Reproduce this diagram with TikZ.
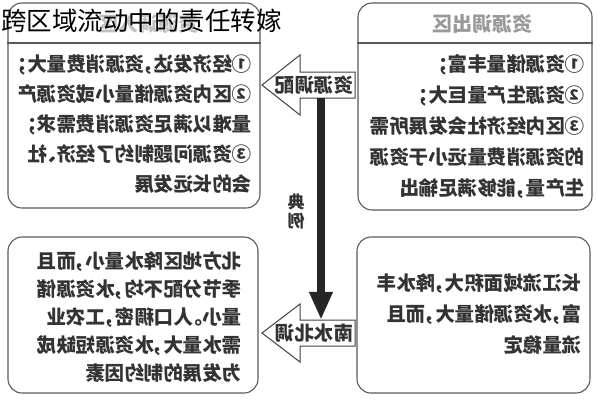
\documentclass[tikz,border=0pt]{standalone}
\usepackage{fontspec}
\setmainfont{Noto Sans CJK SC}[RawFeature={+halt}]
\newfontfamily\fullfont{Noto Sans CJK SC}
\newcommand{\circnum}[1]{{\fullfont #1}}
\usepackage{tikz}
\usetikzlibrary{
	positioning,   %定位
	arrows.meta,   %提供各种箭头
	calc           %计算
}
\tikzset{
	every picture/.style={
		>=latex,
		node distance=5mm and 5mm
}}
\tikzset{
	box/.style={draw=black!65, line width=1.1pt, rounded corners=14pt, inner sep=0pt},
	mirror/.style={xscale=-1},   %原图为镜像
	bodytext/.style={mirror, anchor=north west, inner sep=0pt, align=left, text=black!80,
		font=\fontsize{19.5}{#1}\selectfont\bfseries},
	headtext/.style={mirror, inner sep=0pt, font=\fontsize{20}{20}\selectfont\bfseries},
	flow/.style={draw=black!75, line width=1pt, fill=white},
	flowtext/.style={mirror, inner sep=0pt, minimum width=82pt, minimum height=26pt,
		text=black!80, font=\fontsize{19.5}{19.5}\selectfont\bfseries}
}

\begin{document}
\begin{tikzpicture}[x=1pt, y=-1pt]
\useasboundingbox (0,0) rectangle (597,400);
% 四个区域框
\node[box, minimum width=252pt, minimum height=205pt] (inbox) at (134,105.5) {};
\node[box, minimum width=234pt, minimum height=207pt] (outbox) at (475,106.5) {};
\node[box, minimum width=250pt, minimum height=156pt] (northbox) at (133,315) {};
\node[box, minimum width=233pt, minimum height=156pt] (southbox) at (473.5,315) {};
\draw[draw=black!65, line width=1.1pt] (inbox.west |- 0,43) -- (inbox.east |- 0,43);
\draw[draw=black!65, line width=1.1pt] (outbox.west |- 0,43) -- (outbox.east |- 0,43);
\node[headtext, text=black!25] (inhead) at (148,24) {资源调入区};
\node[headtext, text=black!40] (outhead) at (482,24) {资源调出区};
% 标题
\node[anchor=west, inner sep=0pt, font=\fontsize{25.5}{25.5}\selectfont] (title) at (1,21) {跨区域流动中的责任转嫁};
% 文字
\node[bodytext=30] (intext) at (252,54) {\circnum{①}经济发达，资源消费量大；\\\circnum{②}区内资源储量小或资源产\\量难以满足资源消费需求；\\\circnum{③}资源问题制约了经济、社\\会的长远发展};
\node[bodytext=31] (outtext) at (585,54) {\circnum{①}资源储量丰富；\\\circnum{②}资源生产量巨大；\\\circnum{③}区内经济社会发展所需\\的资源消费量远小于资源\\生产量，能够满足输出};
\node[bodytext=28] (northtext) at (242,251) {北方地区降水量小，而且\\季节分配不均，水资源储\\量小。人口稠密，工农业\\需水量大，水资源短缺成\\为发展的制约因素};
\node[bodytext=31] (southtext) at (582,274) {长江流域面积大，降水丰\\富，水资源储量大，而且\\流量稳定};
% 箭头
\draw[flow] (262,85) -- (300,55) -- (300,72) -- (355,72) -- (355,98) -- (300,98) -- (300,115) -- cycle;
\node[flowtext] (allot) at (314,85) {资源调配};
\draw[flow] (262,333) -- (300,304) -- (300,320) -- (355,320) -- (355,346) -- (300,346) -- (300,362) -- cycle;
\node[flowtext] (transfer) at (314,333) {南水北调};
\draw[line width=8pt, black!85, -{Triangle[width=22pt,length=28pt]}] ([xshift=7pt]allot.south) -- ([xshift=7pt]transfer.north);
\node[mirror, inner sep=0pt, align=center, text=black!80, font=\fontsize{17}{19}\selectfont\bfseries] (example) at (296,211) {典\\例};
\end{tikzpicture}
\end{document}
